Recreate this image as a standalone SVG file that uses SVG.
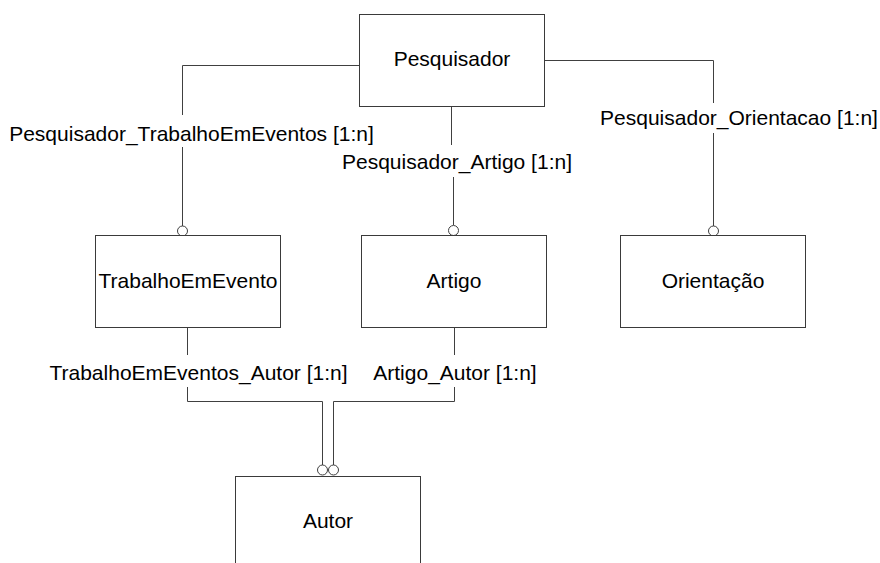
<svg xmlns="http://www.w3.org/2000/svg" width="880" height="563" viewBox="0 0 880 563">
<style>
.box{fill:#fff;stroke:#3a3a3a;stroke-width:1}
.lbl{font-family:"Liberation Sans",Arial,sans-serif;font-size:21px;fill:#000;text-anchor:middle}
.ln{fill:none;stroke:#404040;stroke-width:1}
.end{fill:#fff;stroke:#404040;stroke-width:1}
</style>
<rect width="880" height="563" fill="#fff"/>
<g id="connectors">
<g id="c-pesq-trab">
<polyline class="ln" points="359.5,65.5 182.5,65.5 182.5,115"/>
<line class="ln" x1="182.5" y1="147" x2="182.5" y2="226"/>
<circle class="end" cx="182.5" cy="231" r="5"/>
<text class="lbl" x="191.5" y="141">Pesquisador_TrabalhoEmEventos [1:n]</text>
</g>
<g id="c-pesq-art">
<line class="ln" x1="451.5" y1="106.5" x2="451.5" y2="145"/>
<line class="ln" x1="453.5" y1="177" x2="453.5" y2="225"/>
<circle class="end" cx="453.5" cy="230.5" r="5"/>
<text class="lbl" x="457" y="169">Pesquisador_Artigo [1:n]</text>
</g>
<g id="c-pesq-ori">
<polyline class="ln" points="544.5,60.5 713.5,60.5 713.5,103"/>
<line class="ln" x1="713.5" y1="133" x2="713.5" y2="226"/>
<circle class="end" cx="713.5" cy="231" r="5"/>
<text class="lbl" x="739" y="125">Pesquisador_Orientacao [1:n]</text>
</g>
<g id="c-trab-autor">
<line class="ln" x1="187.5" y1="327.5" x2="187.5" y2="355"/>
<polyline class="ln" points="187.5,387 187.5,401.5 322.5,401.5 322.5,465"/>
<circle class="end" cx="322.5" cy="470" r="5"/>
<text class="lbl" x="198.5" y="380">TrabalhoEmEventos_Autor [1:n]</text>
</g>
<g id="c-art-autor">
<line class="ln" x1="454.5" y1="327.5" x2="454.5" y2="355"/>
<polyline class="ln" points="454.5,387 454.5,401.5 333.5,401.5 333.5,465"/>
<circle class="end" cx="333.5" cy="470" r="5"/>
<text class="lbl" x="455" y="380">Artigo_Autor [1:n]</text>
</g>
</g>
<g id="pesquisador">
<rect class="box" x="359.5" y="14.5" width="185" height="92"/>
<text class="lbl" x="452" y="66">Pesquisador</text>
</g>
<g id="trabalho">
<rect class="box" x="95.5" y="235.5" width="185" height="92"/>
<text class="lbl" x="188" y="288">TrabalhoEmEvento</text>
</g>
<g id="artigo">
<rect class="box" x="361.5" y="235.5" width="185" height="92"/>
<text class="lbl" x="454" y="288">Artigo</text>
</g>
<g id="orientacao">
<rect class="box" x="620.5" y="235.5" width="185" height="92"/>
<text class="lbl" x="713" y="288">Orientação</text>
</g>
<g id="autor">
<rect class="box" x="235.5" y="476.5" width="185" height="92"/>
<text class="lbl" x="328" y="528">Autor</text>
</g>
</svg>
